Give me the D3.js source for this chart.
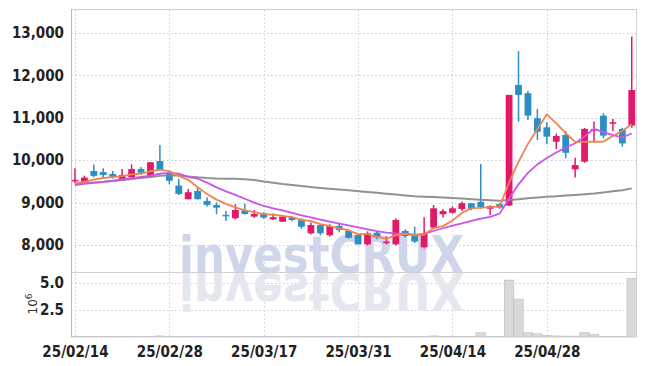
<!DOCTYPE html>
<html lang="en">
<head>
<meta charset="UTF-8">
<style>
  body { margin: 0; background: #fff; }
  text { font-family: "Liberation Sans Narrow", "DejaVu Sans Condensed", sans-serif; }
</style>
</head>
<body>
<div id="chart"></div>
<script src="https://d3js.org/d3.v7.min.js"></script>
<script>
// trading days, tick labels every 10 sessions
var tickIdx = [0, 10, 20, 30, 40, 50];
var tickLabels = ["25/02/14", "25/02/28", "25/03/17", "25/03/31", "25/04/14", "25/04/28"];

// OHLC
var open  = [9530, 9470, 9745, 9720, 9675, 9520, 9600, 9790, 9610, 9980,
             9675, 9400, 9080, 9275, 9040, 8945, 8710, 8630, 8825, 8670,
             8745, 8605, 8550, 8655, 8590, 8275, 8470, 8230, 8450, 8330,
             8235, 8015, 8290, 8080, 8015, 8330, 8235, 7945, 8410, 8725,
             8760, 8850, 8985, 9020, 8855, 8965, 8930, 11775, 11580, 10990,
             10775, 10435, 10595, 9785, 9965, 10715, 11050, 10890, 10735, 10815];
var high  = [9810, 9635, 9900, 9810, 9745, 9790, 9900, 9840, 9960, 10360,
             9745, 9560, 9320, 9375, 9125, 9005, 8800, 8960, 8975, 8825,
             8775, 8745, 8710, 8690, 8630, 8530, 8500, 8490, 8500, 8370,
             8270, 8320, 8330, 8205, 8630, 8370, 8430, 8655, 8945, 8850,
             8910, 9020, 8990, 9910, 8935, 8990, 11540, 12575, 11630, 11210,
             10895, 10625, 10690, 10060, 10760, 10910, 11105, 10970, 10765, 12915];
var low   = [9460, 9450, 9595, 9595, 9565, 9515, 9560, 9675, 9590, 9745,
             9430, 9180, 9070, 9070, 8910, 8725, 8565, 8600, 8720, 8640,
             8620, 8590, 8540, 8560, 8380, 8250, 8230, 8200, 8300, 8150,
             8015, 7990, 8135, 8015, 7990, 8180, 8045, 7920, 8380, 8650,
             8740, 8800, 8820, 8860, 8705, 8850, 8920, 10910, 10950, 10475,
             10375, 10265, 10045, 9590, 9940, 10435, 10515, 10690, 10320, 10765];
var close = [9535, 9590, 9630, 9650, 9610, 9650, 9790, 9705, 9950, 9770,
             9515, 9205, 9245, 9080, 8945, 8880, 8705, 8825, 8730, 8730,
             8645, 8655, 8670, 8590, 8430, 8470, 8275, 8450, 8355, 8170,
             8015, 8275, 8180, 8080, 8590, 8210, 8080, 8260, 8865, 8800,
             8865, 8985, 8850, 8890, 8920, 8880, 11540, 11540, 11050, 10670,
             10555, 10570, 10175, 9885, 10735, 10735, 10580, 10895, 10395, 11655];

// moving averages
var ma5  = [9455, 9490, 9540, 9580, 9600, 9625, 9665, 9680, 9740, 9775,
            9745, 9630, 9535, 9360, 9200, 9070, 8970, 8885, 8815, 8775,
            8730, 8715, 8685, 8655, 8595, 8565, 8490, 8445, 8395, 8345,
            8255, 8255, 8200, 8145, 8230, 8265, 8230, 8245, 8400, 8445,
            8575, 8755, 8870, 8875, 8900, 8905, 9470, 9960, 10385, 10735,
            11080, 10870, 10640, 10430, 10430, 10435, 10440, 10570, 10690, 10850];
var ma20 = [9415, 9440, 9465, 9490, 9515, 9545, 9575, 9605, 9635, 9680,
            9700, 9680, 9605, 9565, 9470, 9360, 9265, 9180, 9090, 9000,
            8920, 8865, 8815, 8760, 8700, 8650, 8600, 8550, 8505, 8460,
            8415, 8370, 8325, 8290, 8275, 8265, 8245, 8260, 8330, 8395,
            8455, 8510, 8570, 8620, 8665, 8740, 9090, 9430, 9700, 9900,
            10050, 10180, 10300, 10400, 10560, 10740, 10660, 10590, 10540, 10630];
var ma60 = [9440, 9460, 9475, 9490, 9510, 9530, 9555, 9580, 9605, 9630,
            9645, 9640, 9615, 9595, 9580, 9570, 9565, 9560, 9550, 9530,
            9500, 9470, 9440, 9415, 9390, 9365, 9345, 9325, 9310, 9290,
            9270, 9250, 9230, 9210, 9190, 9170, 9150, 9140, 9130, 9120,
            9110, 9095, 9080, 9065, 9055, 9045, 9060, 9080, 9100, 9120,
            9140, 9150, 9165, 9180, 9195, 9215, 9240, 9265, 9290, 9335];

// volume in millions
var volume = [0.03, 0.03, 0.03, 0.03, 0.03, 0.03, 0.03, 0.03, 0.04, 0.1,
              0.03, 0.03, 0.03, 0.03, 0.03, 0.03, 0.03, 0.03, 0.03, 0.03,
              0.03, 0.03, 0.03, 0.03, 0.03, 0.03, 0.03, 0.03, 0.03, 0.03,
              0.03, 0.03, 0.03, 0.03, 0.04, 0.03, 0.03, 0.03, 0.1, 0.03,
              0.03, 0.03, 0.03, 0.4, 0.03, 0.03, 5.25, 3.5, 0.4, 0.3,
              0.15, 0.1, 0.08, 0.08, 0.4, 0.25, 0.05, 0.05, 0.05, 5.4];

var priceTicks = [8000, 9000, 10000, 11000, 12000, 13000];
var volTicks = [2.5, 5.0];

var width = 645, height = 366;
var pLeft = 71, pRight = 636, pTop = 10, pMid = 272, pBottom = 337;

var upColor = "#e2196b", downColor = "#2b8fc4";
var gridColor = "#c9cadb";

var svg = d3.select("#chart").append("svg")
    .attr("width", width)
    .attr("height", height);

var x = d3.scaleLinear().domain([-0.42, 59.45]).range([pLeft, pRight]);
var y = d3.scaleLinear().domain([7363, 13542]).range([pMid, pTop]);
var yv = d3.scaleLinear().domain([0, 6.0]).range([pBottom, pMid]);
var step = x(1) - x(0);
var idx = d3.range(close.length);

svg.append("clipPath").attr("id", "clipMain")
    .append("rect").attr("x", pLeft).attr("y", pTop).attr("width", pRight - pLeft).attr("height", pMid - pTop);
svg.append("clipPath").attr("id", "clipVol")
    .append("rect").attr("x", pLeft).attr("y", pMid).attr("width", pRight - pLeft).attr("height", pBottom - pMid);

// grid
var grid = svg.append("g").attr("stroke", gridColor).attr("stroke-dasharray", "1.5,2.5").attr("stroke-width", 1);
grid.selectAll(".gy").data(priceTicks).enter().append("line")
    .attr("x1", pLeft).attr("x2", pRight)
    .attr("y1", function(d) { return Math.round(y(d)) + 0.5; })
    .attr("y2", function(d) { return Math.round(y(d)) + 0.5; });
grid.selectAll(".gv").data(volTicks).enter().append("line")
    .attr("x1", pLeft).attr("x2", pRight)
    .attr("y1", function(d) { return Math.round(yv(d)) + 0.5; })
    .attr("y2", function(d) { return Math.round(yv(d)) + 0.5; });
grid.selectAll(".gx").data(tickIdx).enter().append("line")
    .attr("x1", function(d) { return Math.round(x(d)) + 0.5; })
    .attr("x2", function(d) { return Math.round(x(d)) + 0.5; })
    .attr("y1", pTop).attr("y2", pBottom);

// watermark + reflection
var wm = svg.append("g").style("font-family", "'DejaVu Sans', sans-serif")
    .style("font-weight", "bold").style("font-size", "52px");
wm.append("text")
    .attr("x", 179).attr("y", 273)
    .attr("textLength", 285).attr("lengthAdjust", "spacingAndGlyphs")
    .attr("fill", "#d0d6ea")
    .text("investCRUX");
wm.append("text")
    .attr("x", 179).attr("y", 273)
    .attr("transform", "translate(0,546) scale(1,-1)")
    .attr("textLength", 285).attr("lengthAdjust", "spacingAndGlyphs")
    .attr("fill", "#e5e7f0")
    .text("investCRUX");

// volume bars
svg.append("g").attr("clip-path", "url(#clipVol)")
    .selectAll("rect").data(idx).enter().append("rect")
    .attr("x", function(i) { return x(i) - step / 2; })
    .attr("width", step)
    .attr("y", function(i) { return yv(volume[i]); })
    .attr("height", function(i) { return pBottom - yv(volume[i]); })
    .attr("fill", "#d9d9db")
    .attr("stroke", "#bdbdc2")
    .attr("stroke-width", 0.6);

// candles
var candles = svg.append("g").attr("clip-path", "url(#clipMain)");
var c = candles.selectAll("g").data(idx).enter().append("g");
c.append("line")
    .attr("x1", function(i) { return x(i); })
    .attr("x2", function(i) { return x(i); })
    .attr("y1", function(i) { return y(high[i]); })
    .attr("y2", function(i) { return y(low[i]); })
    .attr("stroke", function(i) { return close[i] >= open[i] ? upColor : downColor; })
    .attr("stroke-width", 1.5);
c.append("rect")
    .attr("x", function(i) { return x(i) - 3.4; })
    .attr("width", 6.8)
    .attr("y", function(i) { return y(Math.max(open[i], close[i])); })
    .attr("height", function(i) { return Math.max(1.5, Math.abs(y(open[i]) - y(close[i]))); })
    .attr("fill", function(i) { return close[i] >= open[i] ? upColor : downColor; });

// moving averages
var line = function(arr) {
    return d3.line().x(function(i) { return x(i); }).y(function(i) { return y(arr[i]); })(idx);
};
var lines = svg.append("g").attr("clip-path", "url(#clipMain)").attr("fill", "none");
lines.append("path").attr("d", line(ma60)).attr("stroke", "#858585").attr("stroke-width", 2).attr("opacity", 0.9);
lines.append("path").attr("d", line(ma20)).attr("stroke", "#cc52ee").attr("stroke-width", 1.8);
lines.append("path").attr("d", line(ma5)).attr("stroke", "#ee8450").attr("stroke-width", 1.8);

// frame
var frame = svg.append("g").attr("fill", "none").attr("stroke", "#cfcfd4").attr("stroke-width", 1);
frame.append("rect").attr("x", pLeft + 0.5).attr("y", pTop - 0.5).attr("width", pRight - pLeft).attr("height", pBottom - pTop + 0.5);
frame.append("line").attr("x1", pLeft).attr("x2", pRight).attr("y1", pMid + 0.5).attr("y2", pMid + 0.5);
svg.append("line").attr("x1", pLeft + 0.5).attr("x2", pLeft + 0.5).attr("y1", pTop - 1).attr("y2", pBottom)
    .attr("stroke", "#b9b9bf").attr("stroke-width", 1);

// axes
var yAxis = d3.axisLeft(y).tickValues(priceTicks).tickSize(0).tickPadding(7).tickFormat(d3.format(","));
svg.append("g").attr("transform", "translate(" + pLeft + ",0)").call(yAxis)
    .call(function(g) { g.select(".domain").remove(); });
var vAxis = d3.axisLeft(yv).tickValues(volTicks).tickSize(0).tickPadding(7).tickFormat(d3.format(".1f"));
svg.append("g").attr("transform", "translate(" + pLeft + ",0)").call(vAxis)
    .call(function(g) { g.select(".domain").remove(); });
var xAxis = d3.axisBottom(x).tickValues(tickIdx).tickSize(0).tickPadding(9)
    .tickFormat(function(d, k) { return tickLabels[k]; });
svg.append("g").attr("transform", "translate(0," + pBottom + ")").call(xAxis)
    .call(function(g) { g.select(".domain").remove(); });

svg.selectAll(".tick text")
    .style("font-size", "15px").style("font-weight", "bold").attr("fill", "#222");

// volume exponent label
var ex = svg.append("text").attr("transform", "translate(37,304) rotate(-90)")
    .attr("text-anchor", "middle").attr("fill", "#333")
    .style("font-family", "'DejaVu Sans', sans-serif").style("font-size", "12px");
ex.append("tspan").text("10");
ex.append("tspan").attr("dy", -5).style("font-size", "9px").text("6");
</script>
</body>
</html>
